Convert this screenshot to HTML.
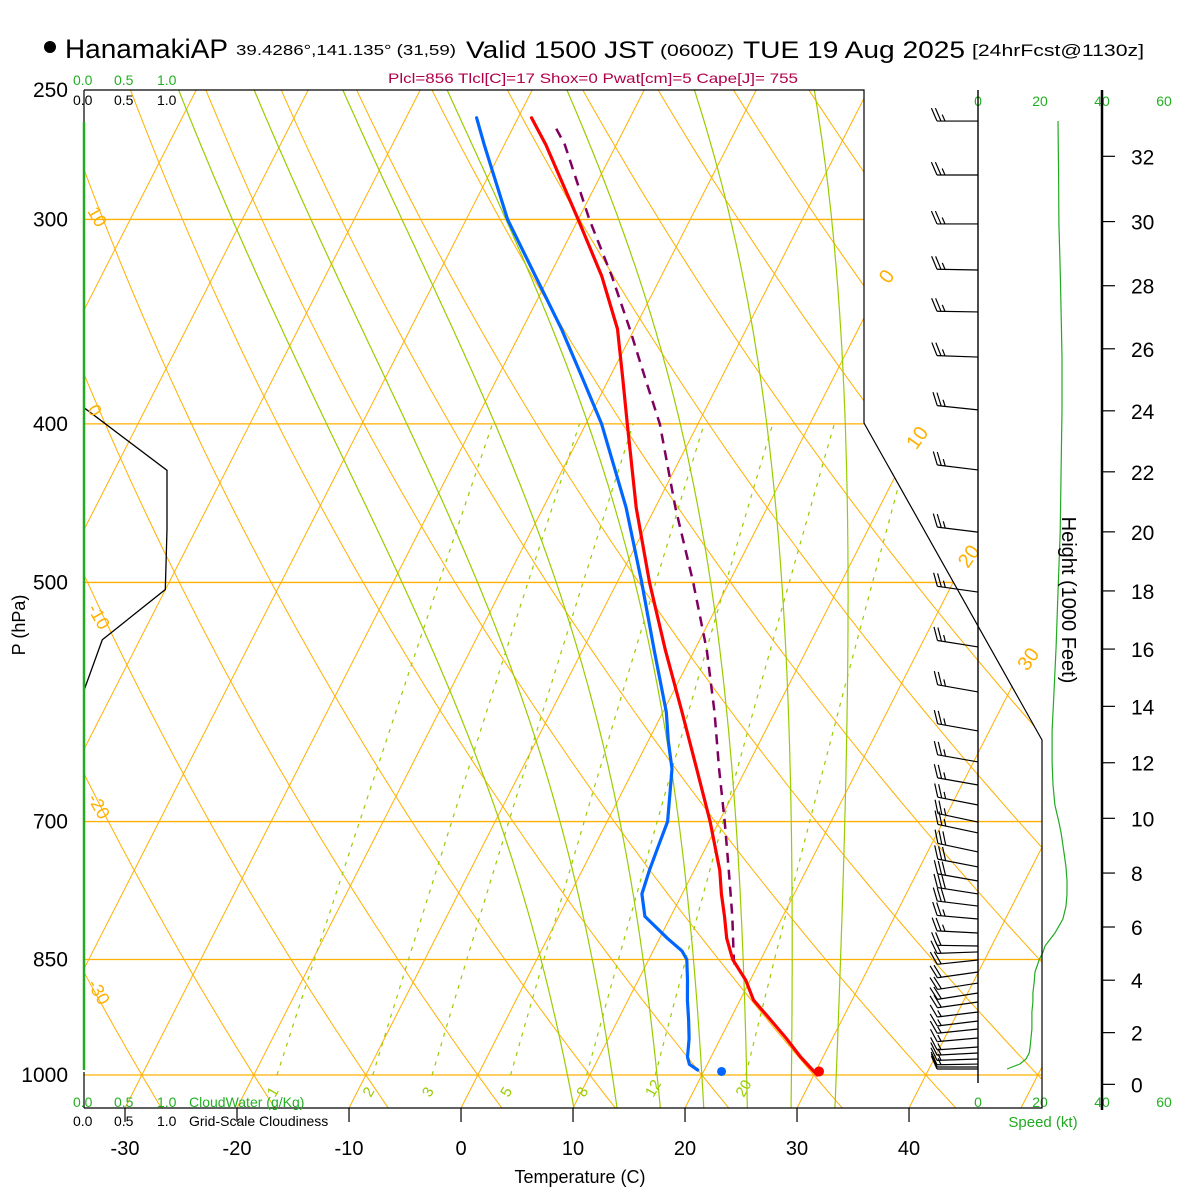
<!DOCTYPE html>
<html><head><meta charset="utf-8"><style>
html,body{margin:0;padding:0;background:#fff;}
svg{display:block;font-family:"Liberation Sans",sans-serif;}
</style></head><body>
<svg id="chart" width="1200" height="1200" viewBox="0 0 1200 1200" xmlns="http://www.w3.org/2000/svg">
<defs><clipPath id="plotclip"><polygon points="84,90 864,90 864,423 1042,740 1042,1108 84,1108"/></clipPath></defs>
<rect width="1200" height="1200" fill="#fff"/>
<g id="grid" clip-path="url(#plotclip)"></g>
<g id="profiles" clip-path="url(#plotclip)"></g>
<g id="overlay"></g>
<polyline points="84,90 864,90 864,423 1042,740 1042,1108 84,1108" fill="none" stroke="#000" stroke-width="1.2"/>
<line x1="84" y1="90" x2="84" y2="122" stroke="#000" stroke-width="1.2"/>
<line x1="84" y1="1072" x2="84" y2="1108" stroke="#000" stroke-width="1.2"/>
<line x1="84" y1="122" x2="84" y2="1070" stroke="#22aa22" stroke-width="2.5"/>
<line x1="978" y1="90" x2="978" y2="1083" stroke="#000" stroke-width="1.4"/>
<line x1="1102" y1="90" x2="1102" y2="1110" stroke="#000" stroke-width="2.5"/>

<g>
<circle cx="50" cy="47" r="6" fill="#000"/>
<text x="65" y="58" font-size="27" textLength="163" lengthAdjust="spacingAndGlyphs">HanamakiAP</text>
<text x="236" y="55" font-size="15" textLength="220" lengthAdjust="spacingAndGlyphs">39.4286°,141.135° (31,59)</text>
<text x="466" y="58" font-size="24" textLength="188" lengthAdjust="spacingAndGlyphs">Valid 1500 JST</text>
<text x="660" y="56" font-size="17" textLength="74" lengthAdjust="spacingAndGlyphs">(0600Z)</text>
<text x="743" y="58" font-size="24" textLength="222" lengthAdjust="spacingAndGlyphs">TUE 19 Aug 2025</text>
<text x="972" y="56" font-size="17" textLength="172" lengthAdjust="spacingAndGlyphs">[24hrFcst@1130z]</text>
<text x="388" y="83" font-size="14" fill="#b0004a" textLength="410" lengthAdjust="spacingAndGlyphs">Plcl=856 Tlcl[C]=17 Shox=0 Pwat[cm]=5 Cape[J]= 755</text>
</g>

<g font-size="14">
<text y="85" fill="#22b022"><tspan x="73">0.0</tspan><tspan x="114">0.5</tspan><tspan x="157">1.0</tspan></text>
<text y="105" fill="#000"><tspan x="73">0.0</tspan><tspan x="114">0.5</tspan><tspan x="157">1.0</tspan></text>
<text y="1107" fill="#22b022"><tspan x="73">0.0</tspan><tspan x="114">0.5</tspan><tspan x="157">1.0</tspan><tspan x="189">CloudWater (g/Kg)</tspan></text>
<text y="1126" fill="#000"><tspan x="73">0.0</tspan><tspan x="114">0.5</tspan><tspan x="157">1.0</tspan><tspan x="189">Grid-Scale Cloudiness</tspan></text>
</g>

<text x="580" y="1183" font-size="18" text-anchor="middle">Temperature (C)</text>
<text transform="translate(25,625) rotate(-90)" font-size="18" text-anchor="middle">P (hPa)</text>
<text transform="translate(1062,600) rotate(90)" font-size="20" text-anchor="middle">Height (1000 Feet)</text>
<text x="1043" y="1127" font-size="15" fill="#22aa22" text-anchor="middle">Speed (kt)</text>

<script>
// ---------- data ----------
const tempP = [1000,975,950,925,900,875,850,825,800,775,750,700,650,600,550,500,450,400,375,350,325,300,270,260];
const tempT = [30.3,28.0,25.9,23.6,21.2,19.6,17.5,16.0,14.8,13.5,12.3,9.2,5.6,1.7,-2.6,-7.1,-11.7,-16.3,-18.8,-21.5,-25.3,-30.0,-36.3,-38.8];
const dewP = [993,985,975,950,925,900,875,850,840,825,800,775,750,725,700,650,625,600,550,500,450,400,375,350,300,270,260];
const dewT = [19.4,18.4,17.9,17.2,16.3,15.3,14.4,13.4,12.6,10.7,7.7,6.4,6.0,5.7,5.4,3.4,1.8,0.3,-3.6,-7.8,-12.6,-18.6,-22.4,-26.5,-36.3,-41.8,-43.7];
const parcelP = [856,850,800,750,700,650,600,550,500,450,400,375,350,325,300,270,262];
const parcelT = [17.9,17.6,15.5,13.1,10.5,7.6,4.6,1.1,-3.2,-8.2,-13.4,-16.8,-20.4,-24.4,-29.0,-34.6,-36.6];
const sfcP = 995, sfcT = 30.3, sfcTd = 21.6;
const windP = [261.2,281.8,301.9,322.1,341.7,364.1,392.2,426.8,465.8,506.8,547.5,583.3,616.2,643.7,664.9,683.9,700.5,711.3,730.6,746.2,761.1,775.1,788.4,802.9,818.9,834.0,841.0,850.6,865.1,878.6,891.0,902.4,915.2,926.8,937.3,949.3,961.4,969.5,977.7,984.7,988.8,991.6];
const windSpd = [25.8,26.0,26.1,26.5,26.8,27.1,27.1,26.8,26.5,25.8,25.2,24.5,23.9,23.9,24.2,24.8,26.1,26.8,27.7,28.4,28.7,28.7,28.4,27.4,24.8,21.6,21.0,19.7,18.4,18.1,17.7,17.7,17.4,17.4,17.4,17.1,16.8,16.5,15.5,13.5,11.0,9.4];
const windDir = [270,270,270,271,271,272,276,277,277,278,279,280,280,280,280,281,282,282,282,281,280,279,277,275,273,271,268,264,262,261,261,262,263,263,264,265,266,267,268,269,270,270];
const cloudP = [391,427,464,505,542,582];
const cloudFrac = [0.0,1.0,1.0,0.98,0.22,0.0];
const pressureTicks = [250,300,400,500,700,850,1000];
const tempTicks = [-30,-20,-10,0,10,20,30,40];
const heightTicks = [0,2,4,6,8,10,12,14,16,18,20,22,24,26,28,30,32];
const speedTicks = [0,20,40,60];
const isotherms = [-110,-100,-90,-80,-70,-60,-50,-40,-30,-20,-10,0,10,20,30,40,50];
const dryAdiabats = [-40,-30,-20,-10,0,10,20,30,40,50,60,70,80,90,100,110,120,130,140,150];
const moistAdiabats = [8,12,16,20,24,28,32];
const mixRatios = [1,2,3,5,8,12,20];
const leftThetaLabels = [10,0,-10,-20,-30];
const leftThetaP = [299,395,523,683,887];
const rightIsoLabels = [0,10,20,30];
const rightIsoP = [327,413,488,564];

// ---------- scales ----------
const Y = p => 1075 - 710.6*Math.log(1000/p);
const X = (T,p) => 461 + 11.2*T + 0.51*(1108 - Y(p));
const XS = s => 978 + s*3.1;
const NS = "http://www.w3.org/2000/svg";
function mk(tag, parent, attrs){ const e=document.createElementNS(NS,tag); for(const k in attrs) e.setAttribute(k,attrs[k]); parent.appendChild(e); return e; }
function pts(arr){ return arr.map(a=>a[0].toFixed(1)+","+a[1].toFixed(1)).join(" "); }
const grid = document.getElementById("grid");
const prof = document.getElementById("profiles");
const ov = document.getElementById("overlay");
const ORANGE="#ffb000", MG="#99cc00";

pressureTicks.forEach(p=>{
  if(p===250) return;
  const l = mk("line",grid,{x1:84,x2:1042,y1:Y(p),y2:Y(p),stroke:ORANGE,"stroke-width":1.3});
  
  
});
isotherms.forEach(T=>{
  const l = mk("line",grid,{x1:X(T,1047.5),y1:1108,x2:X(T,250),y2:90,stroke:ORANGE,"stroke-width":1});
  
  
});
dryAdiabats.forEach(th=>{
  const a=[]; for(let p=1048;p>=240;p-=8){ const T=(th+273.15)*Math.pow(p/1000,0.2857)-273.15; a.push([X(T,p),Y(p)]); }
  const l = mk("polyline",grid,{points:pts(a),fill:"none",stroke:ORANGE,"stroke-width":1});
  
  
});
function dTdp(T,p){ const es=6.112*Math.exp(17.67*(T-273.15)/(T-29.65)); const rs=0.622*es/(p-es);
  const num=287.04*T+2.501e6*rs; const den=1004+2.501e6*2.501e6*rs*0.622/(287.04*T*T); return num/den/p; }
moistAdiabats.forEach(tw=>{
  let a=[]; let T=tw+273.15;
  for(let p=1000;p<=1048;p+=2){ a.unshift([X(T-273.15,p),Y(p)]); T+=dTdp(T,p)*2; }
  T=tw+273.15;
  for(let p=1000;p>=248;p-=2){ if(p<1000) a.push([X(T-273.15,p),Y(p)]); T-=dTdp(T,p)*2; }
  const l = mk("polyline",grid,{points:pts(a),fill:"none",stroke:MG,"stroke-width":1.2});
  
  
});
function tw(w,p){ const es=(w/1000)*p/(0.622+w/1000); const r=Math.log(es/6.112); return 243.5*r/(17.67-r); }
mixRatios.forEach(w=>{
  const a=[]; for(let p=1000;p>=400;p-=10) a.push([X(tw(w,p)-0.8,p),Y(p)]);
  const l = mk("polyline",grid,{points:pts(a),fill:"none",stroke:MG,"stroke-width":1.2,"stroke-dasharray":"4,6"});
  
  
  const tx = mk("text",ov,{transform:`translate(${X(tw(w,1000)-0.8,1000)-2},1098) rotate(-60)`,"font-size":15,fill:MG});
  tx.textContent = w;
  
  
});

{
  const a = cloudP.map((p,i)=>[84+cloudFrac[i]*83, Y(p)]);
  const l = mk("polyline",ov,{points:pts(a),fill:"none",stroke:"#000","stroke-width":1.3});
  
  
}

function curve(P,T,attrs,name){
  const a=P.map((p,i)=>[X(T[i],p),Y(p)]);
  const l = mk("polyline",prof,Object.assign({points:pts(a),fill:"none","stroke-linejoin":"round","stroke-linecap":"round"},attrs));
  
  
}
curve(parcelP,parcelT,{stroke:"#800060","stroke-width":2.5,"stroke-dasharray":"10,7","stroke-linecap":"butt"},'parcel-trace');
curve(dewP,dewT,{stroke:"#0066ff","stroke-width":3.2},'dewpoint-line');
curve(tempP,tempT,{stroke:"#ff0000","stroke-width":3.2},'temperature-line');
{
  const c1 = mk("circle",ov,{cx:X(sfcT,sfcP),cy:Y(sfcP),r:5,fill:"#ff0000"});
  
  
  const c2 = mk("circle",ov,{cx:X(sfcTd,sfcP),cy:Y(sfcP),r:4.5,fill:"#0066ff"});
  
  
}

leftThetaLabels.forEach((v,i)=>{
  const t = mk("text",ov,{transform:`translate(87,${Y(leftThetaP[i])-6}) rotate(60)`,"font-size":18,fill:ORANGE});
  t.textContent=v;
  
  
});
rightIsoLabels.forEach((v,i)=>{
  const p=rightIsoP[i];
  const t = mk("text",ov,{transform:`translate(${X(v,p)+6},${Y(p)+4}) rotate(-55)`,"font-size":20,fill:ORANGE});
  t.textContent=v;
  
  
});

pressureTicks.forEach(p=>{
  const t = mk("text",ov,{x:68,y:Y(p)+7,"font-size":21,"text-anchor":"end"});
  t.textContent=p;
  
  
});
tempTicks.forEach(T=>{
  const x = X(T,1047.5);
  const l = mk("line",ov,{x1:x,x2:x,y1:1108,y2:1122,stroke:"#000","stroke-width":1.2});
  
  
  const t = mk("text",ov,{x:x,y:1155,"font-size":20,"text-anchor":"middle"});
  t.textContent=T;
  
  
});
heightTicks.forEach(h=>{
  const p = 1013.25*Math.pow(1-2.25577e-5*h*304.8,5.25588);
  const y = Y(p);
  const l = mk("line",ov,{x1:1102,x2:1115,y1:y,y2:y,stroke:"#000","stroke-width":1.2});
  
  
  const t = mk("text",ov,{x:1131,y:y+8,"font-size":21});
  t.textContent=h;
  
  
});
speedTicks.forEach(s=>{
  [106,1107].forEach(y=>{
    const t = mk("text",ov,{x:XS(s),y:y,"font-size":14,fill:"#22b022","text-anchor":"middle"});
    t.textContent=s;
    
    
  });
});
{
  const a = windP.map((p,i)=>[XS(windSpd[i]),Y(p)]);
  const l = mk("polyline",ov,{points:pts(a),fill:"none",stroke:"#22aa22","stroke-width":1.2});
  
  
}
windP.forEach((p,i)=>{
  const g = mk("g",ov,{stroke:"#000","stroke-width":1.2,fill:"none"});
  
  
  const x0=978, y0=Y(p), d=windDir[i]*Math.PI/180;
  const ux=Math.sin(d), uy=-Math.cos(d);
  const nx=-uy, ny=ux;
  const bx=0.4*ux+0.92*(ny<0?nx:-nx), by=0.4*uy+0.92*(ny<0?ny:-ny);
  const L=41, tx=x0+ux*L, ty=y0+uy*L;
  mk("line",g,{x1:x0,y1:y0,x2:tx,y2:ty});
  let s=Math.round(windSpd[i]/5)*5, k=0;
  while(s>=10){ const sx=tx-ux*k*4, sy=ty-uy*k*4; mk("line",g,{x1:sx,y1:sy,x2:sx+bx*14,y2:sy+by*14}); s-=10; k++; }
  if(s>=5){ if(k===0) k=1; const sx=tx-ux*k*4, sy=ty-uy*k*4; mk("line",g,{x1:sx,y1:sy,x2:sx+bx*7,y2:sy+by*7}); }
});
</script>
</svg>
</body></html>
